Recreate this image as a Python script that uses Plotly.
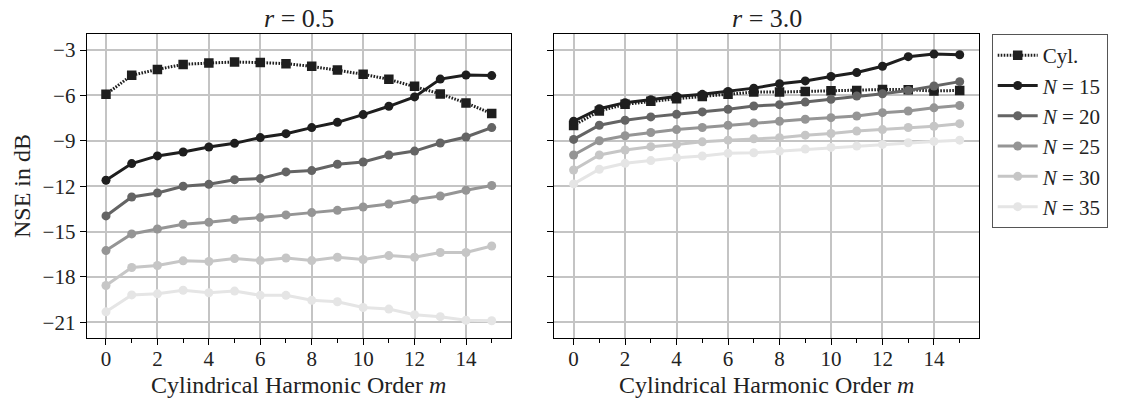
import plotly.graph_objects as go

m = list(range(16))

# r = 0.5
cyl_r05 = [-5.93, -4.67, -4.28, -3.95, -3.86, -3.79, -3.83, -3.90, -4.08, -4.32, -4.60, -4.94, -5.40, -5.90, -6.50, -7.20]
n15_r05 = [-11.61, -10.51, -10.00, -9.74, -9.41, -9.17, -8.79, -8.53, -8.13, -7.78, -7.27, -6.72, -6.10, -4.92, -4.65, -4.69]
n20_r05 = [-13.97, -12.72, -12.45, -12.01, -11.88, -11.57, -11.50, -11.06, -10.97, -10.55, -10.40, -9.94, -9.68, -9.15, -8.75, -8.13]
n25_r05 = [-16.26, -15.16, -14.83, -14.52, -14.39, -14.21, -14.08, -13.90, -13.75, -13.60, -13.38, -13.18, -12.89, -12.65, -12.27, -11.96]
n30_r05 = [-18.57, -17.38, -17.25, -16.94, -16.98, -16.79, -16.92, -16.75, -16.92, -16.70, -16.85, -16.59, -16.70, -16.39, -16.39, -15.96]
n35_r05 = [-20.31, -19.19, -19.12, -18.88, -19.05, -18.94, -19.22, -19.22, -19.55, -19.64, -20.02, -20.13, -20.50, -20.63, -20.87, -20.90]

# r = 3.0
cyl_r30 = [-7.99, -7.03, -6.59, -6.39, -6.22, -6.07, -5.93, -5.78, -5.78, -5.74, -5.69, -5.67, -5.61, -5.62, -5.71, -5.67]
n15_r30 = [-7.71, -6.88, -6.48, -6.28, -6.07, -5.93, -5.74, -5.52, -5.23, -5.04, -4.75, -4.49, -4.07, -3.44, -3.27, -3.31]
n20_r30 = [-8.91, -7.97, -7.64, -7.42, -7.25, -7.09, -6.92, -6.70, -6.61, -6.44, -6.26, -6.04, -5.89, -5.67, -5.38, -5.09]
n25_r30 = [-9.94, -9.00, -8.67, -8.45, -8.26, -8.12, -7.97, -7.82, -7.71, -7.58, -7.47, -7.36, -7.14, -7.03, -6.82, -6.67]
n30_r30 = [-10.93, -9.94, -9.61, -9.39, -9.24, -9.07, -8.96, -8.87, -8.80, -8.63, -8.52, -8.36, -8.26, -8.12, -8.04, -7.87]
n35_r30 = [-11.85, -10.88, -10.49, -10.31, -10.12, -10.01, -9.83, -9.79, -9.68, -9.55, -9.44, -9.35, -9.24, -9.13, -9.04, -8.96]

series_names = ["Cyl.", "<i>N</i> = 15", "<i>N</i> = 20", "<i>N</i> = 25", "<i>N</i> = 30", "<i>N</i> = 35"]
left_data = [cyl_r05, n15_r05, n20_r05, n25_r05, n30_r05, n35_r05]
right_data = [cyl_r30, n15_r30, n20_r30, n25_r30, n30_r30, n35_r30]
colors = ["#1e1e1e", "#1e1e1e", "#646464", "#959595", "#c6c6c6", "#e5e5e5"]
panel_titles = ["<i>r</i> = 0.5", "<i>r</i> = 3.0"]
x_title = "Cylindrical Harmonic Order <i>m</i>"
y_title = "NSE in dB"

FONT = "Liberation Serif"
TICK_FS = 21
AXT_FS = 24
TITLE_FS = 26
LEG_FS = 21
W, H = 1130, 400

fig = go.Figure()

for panel, data in enumerate([left_data, right_data]):
    xa = "x" if panel == 0 else "x2"
    ya = "y" if panel == 0 else "y2"
    for i, (name, ys, c) in enumerate(zip(series_names, data, colors)):
        is_cyl = i == 0
        fig.add_trace(go.Scatter(
            x=m, y=ys, name=name, xaxis=xa, yaxis=ya,
            mode="lines+markers",
            line=dict(color=c, width=3, dash="1.6px,1.4px" if is_cyl else "solid"),
            marker=dict(symbol="square" if is_cyl else "circle", size=9.5 if is_cyl else 9, color=c,
                        line=dict(width=0)),
            showlegend=(panel == 1),
        ))

def px(x):
    return x / W

def py(y):
    return 1 - y / H

yrange = [-22.06, -1.94]
xrange_ = [-0.75, 15.75]

common_x = dict(
    range=xrange_, tick0=0, dtick=2, ticks="outside", ticklen=6, tickwidth=1.3, tickcolor="black",
    showgrid=True, gridcolor="#c4c4c4", gridwidth=1.7, zeroline=False,
    showline=True, linecolor="black", linewidth=1.2, mirror=True,
    minor=dict(dtick=1, tick0=0, ticks="outside", ticklen=3.5, tickwidth=1, tickcolor="black", showgrid=False),
    tickfont=dict(family=FONT, size=TICK_FS, color="#222"),
    ticklabelstandoff=-5,
)
common_y = dict(
    range=yrange, tick0=-3, dtick=3, ticks="outside", ticklen=6, tickwidth=1.3, tickcolor="black",
    showgrid=True, gridcolor="#c4c4c4", gridwidth=1.7, zeroline=False,
    showline=True, linecolor="black", linewidth=1.2, mirror=True,
    tickfont=dict(family=FONT, size=TICK_FS, color="#222"),
)

fig.update_layout(
    width=W, height=H,
    margin=dict(l=0, r=0, t=0, b=0),
    paper_bgcolor="white", plot_bgcolor="white",
    font=dict(family=FONT, size=TICK_FS, color="#222"),
    xaxis=dict(domain=[px(86.7), px(511)], anchor="y", **common_x),
    yaxis=dict(domain=[py(338.3), py(34)], anchor="x", **common_y),
    xaxis2=dict(domain=[px(554.3), px(979)], anchor="y2", **common_x),
    yaxis2=dict(domain=[py(338.3), py(34)], anchor="x2", showticklabels=False, **common_y),
    legend=dict(
        x=px(991.7), y=py(34), xanchor="left", yanchor="top",
        bordercolor="#555", borderwidth=1, bgcolor="white",
        font=dict(family=FONT, size=LEG_FS, color="#222"),
        itemwidth=40, entrywidth=135, entrywidthmode="pixels",
    ),
    showlegend=True,
)

annotations = [
    dict(text=panel_titles[0], x=px(298.8), y=py(18), xref="paper", yref="paper",
         xanchor="center", yanchor="middle", showarrow=False, font=dict(family=FONT, size=TITLE_FS)),
    dict(text=panel_titles[1], x=px(766.6), y=py(18), xref="paper", yref="paper",
         xanchor="center", yanchor="middle", showarrow=False, font=dict(family=FONT, size=TITLE_FS)),
    dict(text=x_title, x=px(298.8), y=py(385), xref="paper", yref="paper",
         xanchor="center", yanchor="middle", showarrow=False, font=dict(family=FONT, size=AXT_FS)),
    dict(text=x_title, x=px(766.6), y=py(385), xref="paper", yref="paper",
         xanchor="center", yanchor="middle", showarrow=False, font=dict(family=FONT, size=AXT_FS)),
    dict(text=y_title, x=px(22), y=py(186), xref="paper", yref="paper", textangle=-90,
         xanchor="center", yanchor="middle", showarrow=False, font=dict(family=FONT, size=AXT_FS)),
]
fig.update_layout(annotations=annotations)

fig.write_html("out.html")
